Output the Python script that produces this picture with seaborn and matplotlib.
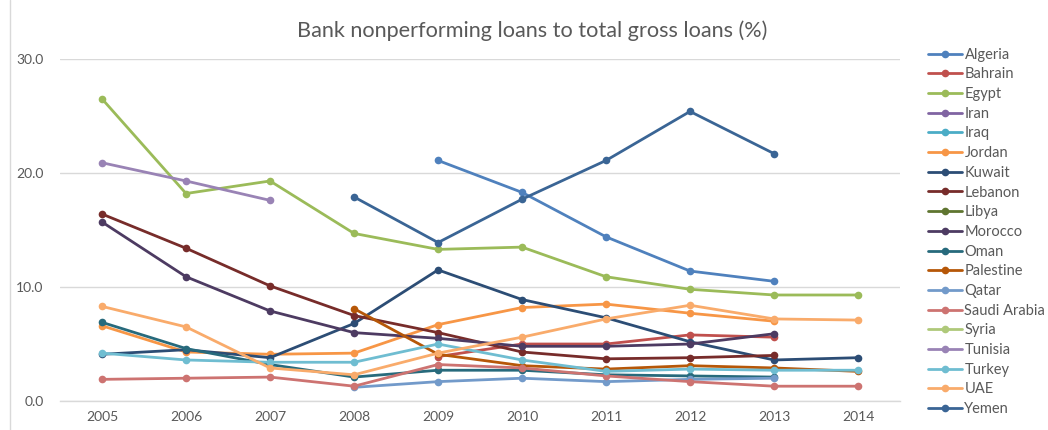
import numpy as np
import pandas as pd
import matplotlib
matplotlib.use("Agg")
import matplotlib.pyplot as plt
from matplotlib.lines import Line2D
import seaborn as sns

years = list(range(2005, 2015))
nan = np.nan

algeria = [nan, nan, nan, nan, 21.1, 18.3, 14.4, 11.4, 10.5, nan]
bahrain = [nan, nan, nan, nan, 3.9, 5.0, 5.0, 5.8, 5.6, nan]
egypt = [26.5, 18.2, 19.3, 14.7, 13.3, 13.5, 10.9, 9.8, 9.3, 9.3]
iran = [nan] * 10
iraq = [nan] * 10
jordan = [6.6, 4.3, 4.1, 4.2, 6.7, 8.2, 8.5, 7.7, 7.0, nan]
kuwait = [4.1, 4.5, 3.8, 6.8, 11.5, 8.9, 7.3, 5.2, 3.6, 3.8]
lebanon = [16.4, 13.4, 10.1, 7.5, 6.0, 4.3, 3.7, 3.8, 4.0, nan]
libya = [nan] * 10
morocco = [15.7, 10.9, 7.9, 6.0, 5.5, 4.8, 4.8, 5.0, 5.9, nan]
oman = [6.9, 4.6, 3.2, 2.1, 2.7, 2.7, 2.3, 2.2, 2.1, nan]
palestine = [nan, nan, nan, 8.1, 4.1, 3.1, 2.8, 3.1, 2.9, 2.6]
qatar = [nan, nan, nan, 1.2, 1.7, 2.0, 1.7, 1.9, 2.0, nan]
saudi_arabia = [1.9, 2.0, 2.1, 1.3, 3.2, 2.9, 2.2, 1.7, 1.3, 1.3]
syria = [nan] * 10
tunisia = [20.9, 19.3, 17.6, nan, nan, nan, nan, nan, nan, nan]
turkey = [4.2, 3.6, 3.4, 3.4, 5.0, 3.6, 2.6, 2.8, 2.7, 2.7]
uae = [8.3, 6.5, 2.9, 2.3, 4.2, 5.6, 7.2, 8.4, 7.2, 7.1]
yemen = [nan, nan, nan, 17.9, 13.9, 17.7, 21.1, 25.4, 21.7, nan]

countries = ["Algeria", "Bahrain", "Egypt", "Iran", "Iraq", "Jordan", "Kuwait",
             "Lebanon", "Libya", "Morocco", "Oman", "Palestine", "Qatar",
             "Saudi Arabia", "Syria", "Tunisia", "Turkey", "UAE", "Yemen"]
series = [algeria, bahrain, egypt, iran, iraq, jordan, kuwait, lebanon, libya,
          morocco, oman, palestine, qatar, saudi_arabia, syria, tunisia, turkey,
          uae, yemen]

colors = ["#4F81BD", "#C0504D", "#9BBB59", "#8064A2", "#4BACC6", "#F79646",
          "#2C4D75", "#772C2A", "#5F7530", "#4D3B62", "#276A7C", "#B65708",
          "#729ACA", "#CD7371", "#AFC97A", "#9983B5", "#6FBDD1", "#F9AB6B",
          "#3A6595"]
palette = dict(zip(countries, colors))

rows = []
for name, vals in zip(countries, series):
    for yr, v in zip(years, vals):
        if not np.isnan(v):
            rows.append({"Country": name, "Year": yr, "NPL": v})
df = pd.DataFrame(rows)

sns.set_theme(style="white")
plt.rcParams["font.family"] = ["Lato", "DejaVu Sans"]

fig = plt.figure(figsize=(10.48, 4.30), dpi=100)
ax = fig.add_axes([0.0573, 0.0674, 0.8015, 0.7954])

sns.lineplot(data=df, x="Year", y="NPL", hue="Country", hue_order=countries,
             palette=palette, marker="o", markersize=5.5, markeredgewidth=0,
             linewidth=2.0, legend=False, ax=ax, sort=True)

ax.set_xlim(2004.5, 2014.5)
ax.set_ylim(0, 30)
ax.set_xticks(years)
ax.set_xticklabels([str(y) for y in years])
ax.set_yticks([0, 10, 20, 30])
ax.set_yticklabels(["0.0", "10.0", "20.0", "30.0"])
ax.yaxis.grid(True, color="#D9D9D9", linewidth=1.0)
ax.set_axisbelow(True)
for side in ["top", "right", "left"]:
    ax.spines[side].set_visible(False)
ax.spines["bottom"].set_color("#D9D9D9")
ax.spines["bottom"].set_linewidth(1.0)
ax.tick_params(axis="both", length=0, labelsize=10, labelcolor="#595959")
ax.tick_params(axis="x", pad=7)
ax.tick_params(axis="y", pad=12)
ax.set_xlabel("")
ax.set_ylabel("")

fig.text(0.508, 0.928, "Bank nonperforming loans to total gross loans (%)",
         ha="center", va="center", fontsize=15.6, color="#595959")

handles = [Line2D([0], [0], color=c, marker="o", markersize=5.5,
                  markeredgewidth=0, linewidth=2.0) for c in colors]
leg = fig.legend(handles, countries, loc="upper left",
                 bbox_to_anchor=(0.8855, 0.889), frameon=False, fontsize=10.5,
                 handlelength=2.3, handletextpad=0.2, labelspacing=0.39,
                 borderaxespad=0, borderpad=0)
for t in leg.get_texts():
    t.set_color("#595959")

fig.add_artist(Line2D([10 / 1048, 10 / 1048], [0, 1], transform=fig.transFigure,
                      color="#D9D9D9", linewidth=1.0))

fig.savefig("out.png", dpi=100)
